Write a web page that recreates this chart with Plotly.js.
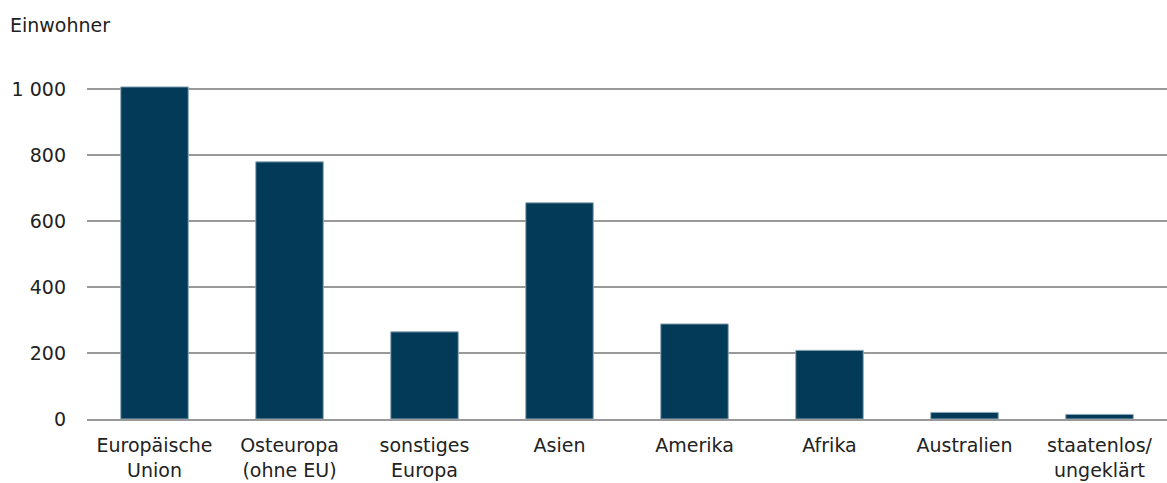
<!DOCTYPE html>
<html>
<head>
<meta charset="utf-8">
<script src="https://cdn.plot.ly/plotly-3.0.1.min.js"></script>
<style>html,body{margin:0;padding:0;background:#fff;}#chart{width:1167px;height:483px;}</style>
</head>
<body>
<div id="chart"></div>
<script>
const categories = ["Europäische<br>Union", "Osteuropa<br>(ohne EU)", "sonstiges<br>Europa", "Asien", "Amerika", "Afrika", "Australien", "staatenlos/<br>ungeklärt"];
const einwohner = [1006, 779, 264, 655, 288, 208, 20, 14];
const yTickVals = [0, 200, 400, 600, 800, 1000];
const yTickText = ["0", "200", "400", "600", "800", "1 000"];

const FONT = "DejaVu Sans, Verdana, sans-serif";
const FS = 19;

const trace = {
  type: "bar",
  x: categories,
  y: einwohner,
  marker: { color: "#023a58", line: { color: "#8fa9b9", width: 1 } },
  hoverinfo: "x+y"
};

const layout = {
  width: 1167,
  height: 483,
  margin: { l: 87, r: 0, t: 79, b: 64 },
  paper_bgcolor: "#ffffff",
  plot_bgcolor: "#ffffff",
  font: { family: FONT, size: FS, color: "#222222" },
  title: {
    text: "Einwohner",
    x: 10 / 1167, xanchor: "left", xref: "container",
    y: 1 - 25 / 483, yanchor: "middle", yref: "container",
    font: { family: FONT, size: FS, color: "#222222" }
  },
  bargap: 0.5,
  showlegend: false,
  xaxis: {
    type: "category",
    showgrid: false,
    showline: true,
    linecolor: "#999999",
    linewidth: 2,
    ticks: "",
    ticklabelstandoff: 8,
    tickfont: { family: FONT, size: FS },
    zeroline: false
  },
  yaxis: {
    range: [0, 1030],
    tickvals: yTickVals,
    ticktext: yTickText,
    showgrid: true,
    gridcolor: "#999999",
    gridwidth: 1.5,
    zeroline: false,
    showline: false,
    ticks: "",
    ticklabelstandoff: 20,
    tickfont: { family: FONT, size: FS }
  }
};

Plotly.newPlot("chart", [trace], layout, { displayModeBar: false, staticPlot: true });
</script>
</body>
</html>
